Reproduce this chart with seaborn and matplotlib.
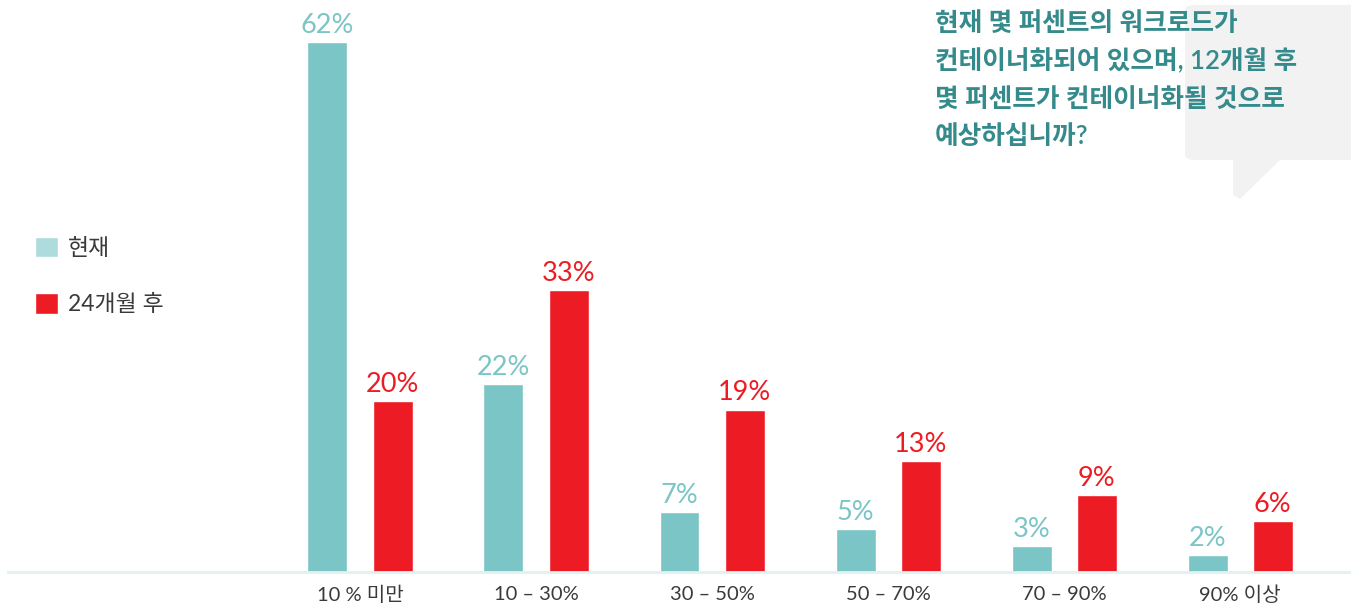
import matplotlib
matplotlib.use('Agg')
import matplotlib.pyplot as plt
from matplotlib.patches import FancyBboxPatch, Polygon, Patch
import pandas as pd
import seaborn as sns

# 데이터
ranges = ['10 % 미만', '10 – 30%', '30 – 50%', '50 – 70%', '70 – 90%', '90% 이상']
series = ['현재', '24개월 후']
now_vals = [62, 22, 7, 5, 3, 2]
later_vals = [20, 33, 19, 13, 9, 6]
question = ('현재 몇 퍼센트의 워크로드가\n'
            '컨테이너화되어 있으며, 12개월 후\n'
            '몇 퍼센트가 컨테이너화될 것으로\n'
            '예상하십니까?')

TEAL = '#7CC5C6'
TEAL_LIGHT = '#AEDCDC'
RED = '#ED1C24'
TEXT = '#3A3A3A'
Q_COLOR = '#358A8B'

df = pd.DataFrame({
    '범위': ranges * 2,
    '시점': [series[0]] * len(ranges) + [series[1]] * len(ranges),
    '값': now_vals + later_vals,
})

sns.set_style('white')
plt.rcParams['font.family'] = ['Lato', 'Noto Sans CJK KR', 'DejaVu Sans']

W, H = 1351, 607
fig = plt.figure(figsize=(W / 100, H / 100), dpi=100)
ax = fig.add_axes([8 / W, (H - 572) / H, 1 - 8 / W, 572 / H])

sns.barplot(data=df, x='범위', y='값', hue='시점', hue_order=series,
            palette=[TEAL, RED], width=0.74, gap=0.386, dodge=True,
            legend=False, ax=ax, saturation=1)

for cont, col in zip(ax.containers, [TEAL, RED]):
    ax.bar_label(cont, labels=[f'{v:.0f}%' for v in cont.datavalues],
                 color=col, fontsize=19.5, padding=3)

ax.set_xlim(-2.0, 5.63)
ax.set_ylim(0, 66.9)
ax.set_xlabel('')
ax.set_ylabel('')
ax.set_yticks([])
ax.tick_params(axis='x', length=0, pad=10, labelsize=14.5, labelcolor=TEXT)
for s in ['top', 'right', 'left']:
    ax.spines[s].set_visible(False)
ax.spines['bottom'].set_color('#E2F1F1')
ax.spines['bottom'].set_linewidth(2)

# legend
handles = [Patch(facecolor=TEAL_LIGHT), Patch(facecolor=RED)]
fig.legend(handles, series, loc='upper left', bbox_to_anchor=(14 / W, 1 - 216 / H),
           frameon=False, fontsize=16.5, handlelength=1.0, handleheight=1.0,
           handletextpad=0.45, labelspacing=1.5, labelcolor=TEXT)

# speech bubble
def fx(px):
    return px / W

def fy(py):
    return 1 - py / H

bubble = FancyBboxPatch((fx(1185), fy(160)), fx(1380) - fx(1185), fy(5) - fy(160),
                        boxstyle='round,pad=0,rounding_size=0.008',
                        transform=fig.transFigure, facecolor='#F2F2F2',
                        edgecolor='none', zorder=0)
fig.patches.append(bubble)
tail = Polygon([(fx(1233), fy(159)), (fx(1233), fy(195)), (fx(1240), fy(199)),
                (fx(1281), fy(159))], closed=True, transform=fig.transFigure,
               facecolor='#F2F2F2', edgecolor='none', zorder=0)
fig.patches.append(tail)

fig.text(fx(935), fy(11), question, ha='left', va='top', fontsize=18.5,
         fontweight='semibold', color=Q_COLOR, linespacing=1.62,
         family=['Lato', 'Noto Sans CJK KR'])

fig.savefig('out.png', dpi=100)
